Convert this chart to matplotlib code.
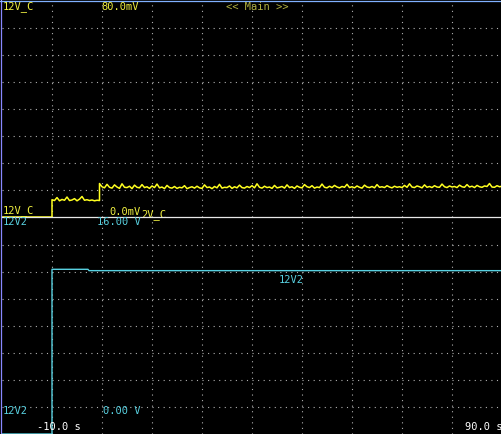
import numpy as np
import matplotlib
matplotlib.use("Agg")
import matplotlib.pyplot as plt

# --- data ---
# time axis: -10 s .. 90 s, 10 s/div
t_start, t_end = -10.0, 90.0

# channel 12V_C (mV), 10 mV/div, 0..80 mV
c_pre_t = [-10.0, 0.0]
c_pre_v = [0.0, 0.0]
c_step1 = [6.4, 6.1, 7.2, 6.0, 6.5, 6.2, 7.4, 6.1, 6.3, 6.8,
           6.0, 6.6, 7.6, 6.2, 6.4, 6.1, 6.3, 6.0, 6.2, 6.1]
c_step2 = [12.4, 11.2, 10.8, 12.1, 11.0, 10.7, 11.9, 11.1, 10.6, 12.3,
           11.0, 10.9, 11.4, 10.5, 11.8, 11.0, 10.8, 12.0, 10.9, 11.2,
           10.6, 11.5, 10.9, 12.2, 10.8, 11.1, 10.5, 11.7, 10.9, 10.7,
           11.3, 10.6, 11.0, 10.8, 11.6, 10.5, 10.9, 11.2, 10.7, 11.4,
           10.8, 10.6, 11.9, 10.9, 11.1, 10.5, 11.3, 10.8, 12.1, 10.7,
           11.0, 10.9, 11.5, 10.6, 11.2, 10.8, 11.8, 10.9, 10.7, 11.3,
           10.9, 11.6, 10.8, 12.3, 11.0, 10.7, 11.4, 10.9, 11.1, 10.6,
           11.7, 10.8, 11.0, 11.3, 10.7, 11.9, 10.9, 11.2, 10.6, 11.5,
           11.0, 10.8, 12.0, 11.2, 10.9, 11.6, 10.7, 11.1, 10.9, 12.2,
           11.0, 10.8, 11.4, 10.9, 11.7, 11.1, 10.8, 11.3, 11.0, 12.1,
           10.9, 11.2, 10.8, 11.5, 11.0, 10.7, 11.8, 11.1, 10.9, 11.3,
           10.8, 12.0, 11.0, 11.2, 10.9, 11.6, 11.1, 10.8, 11.4, 11.0,
           11.2, 10.9, 11.7, 11.0, 12.3, 11.1, 10.9, 11.5, 11.2, 10.8,
           11.9, 11.0, 11.3, 10.9, 11.6, 11.1, 11.0, 12.2, 11.2, 10.9,
           11.5, 11.1, 11.3, 10.9, 11.8, 11.2, 11.0, 12.0, 11.1, 11.4,
           10.9, 11.7, 11.2, 11.0, 11.5, 11.3, 12.4, 11.1, 11.0, 11.6,
           11.2, 11.4]
c_dt = 0.5
c_step2_start = 9.5

# channel 12V2 (V), 2 V/div, 0..16 V
v_t = [-10.0, 0.0, 0.0, 7.2, 7.4, 90.0]
v_v = [0.0, 0.0, 12.2, 12.2, 12.1, 12.1]

# --- colours ---
BG = "black"
YEL = "#ffff20"
YEL_TXT = "#f0f040"
OLIVE = "#b0b040"
CYAN = "#58d0e0"
GRID = "#b0b0b0"

W, H = 502, 434
fig = plt.figure(figsize=(W / 100, H / 100), dpi=100, facecolor=BG)


def px(x, y):
    return x / W, 1 - y / H


def setup(ax, ymax, ystep):
    ax.set_facecolor(BG)
    ax.set_xlim(t_start, t_end)
    ax.set_ylim(0, ymax)
    ax.set_xticks(np.arange(t_start + 10, t_end, 10))
    ax.set_yticks(np.arange(ystep, ymax, ystep))
    ax.grid(True, color=GRID, linestyle=(0, (1, 4)), linewidth=0.8)
    ax.tick_params(length=0, labelbottom=False, labelleft=False)
    for s in ax.spines.values():
        s.set_visible(False)


ax1 = fig.add_axes([2 / W, (H - 217) / H, 500 / W, 216 / H])
setup(ax1, 80, 10)
ax2 = fig.add_axes([2 / W, 0, 500 / W, 216 / H])
setup(ax2, 16, 2)

# traces
t1 = np.array(c_pre_t + [0.0] + list(np.arange(len(c_step1)) * c_dt))
v1 = np.array(c_pre_v + [c_step1[0]] + c_step1)
t2 = c_step2_start + np.arange(len(c_step2)) * c_dt
ax1.plot(np.concatenate([t1, t2]), np.concatenate([v1, c_step2]),
         color=YEL, linewidth=1.1, clip_on=False)
ax2.plot(v_t, v_v, color=CYAN, linewidth=1.0, clip_on=False)

# separator and border lines
fig.add_artist(plt.Line2D([2 / W, 1], [1 - 216.5 / H] * 2, color="#e8e8e8",
                          linewidth=0.9, zorder=5))
fig.add_artist(plt.Line2D([1.5 / W] * 2, [0, 1], color="#8888ff", linewidth=0.9))
fig.add_artist(plt.Line2D([0, 1], [1 - 0.5 / H] * 2, color="#80b0ff", linewidth=0.9))

fs = 7.5
mono = "DejaVu Sans Mono"


def label(x, y, s, c, z=6):
    fig.text(*px(x, y), s, color=c, fontsize=fs, family=mono,
             ha="left", va="center", zorder=z)


label(3, 7, "12V_C", YEL_TXT)
label(101, 7, "80.0mV", YEL_TXT)
label(226, 7, "<< Main >>", OLIVE)
label(3, 211, "12V_C", YEL_TXT)
label(109, 212, "0.0mV", YEL_TXT)
label(141, 215, "2V_C", YEL_TXT, z=4)
label(3, 222, "12V2", CYAN)
label(97, 222, "16.00 V", CYAN)
label(279, 280, "12V2", CYAN)
label(3, 411, "12V2", CYAN)
label(103, 411, "0.00 V", CYAN)
label(37, 427, "-10.0 s", "white")
label(465, 427, "90.0 s", "white")

fig.savefig("out.png", dpi=100, facecolor=BG)
